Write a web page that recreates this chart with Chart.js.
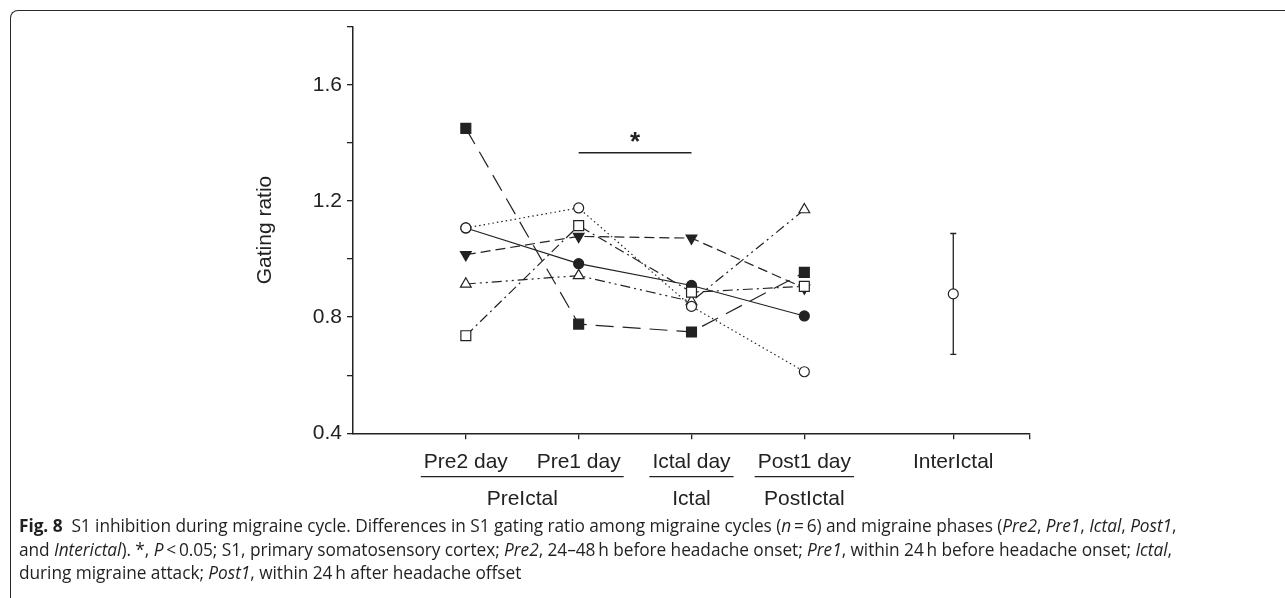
<!DOCTYPE html>
<html>
<head>
<meta charset="utf-8">
<script src="https://cdn.jsdelivr.net/npm/chart.js@4"></script>
<style>
  body { margin: 0; background: #fff; width: 1285px; height: 598px; overflow: hidden; position: relative; }
  #frame {
    position: absolute; left: 10px; top: 10px; width: 1290px; height: 600px;
    border-top: 1.5px solid #2a2a2a; border-left: 1.5px solid #2a2a2a;
    border-top-left-radius: 8px;
  }
  #chart { position: absolute; left: 0; top: 0; }
  #caption {
    position: absolute; left: 19px; top: 514px; width: 1260px;
    font-family: "Open Sans", sans-serif; font-size: 17.3px; line-height: 23.5px;
    color: #231f20; letter-spacing: -0.05px; white-space: nowrap;
  }
  #caption b { font-weight: 700; }
</style>
</head>
<body>
<div id="frame"></div>
<canvas id="chart" width="1285" height="598"></canvas>
<div id="caption">
  <div><b>Fig. 8</b>&nbsp; S1 inhibition during migraine cycle. Differences in S1 gating ratio among migraine cycles (<i>n</i>&thinsp;=&thinsp;6) and migraine phases (<i>Pre2</i>, <i>Pre1</i>, <i>Ictal</i>, <i>Post1</i>,</div>
  <div>and <i>Interictal</i>). *, <i>P</i>&thinsp;&lt;&thinsp;0.05; S1, primary somatosensory cortex; <i>Pre2</i>, 24–48&thinsp;h before headache onset; <i>Pre1</i>, within 24&thinsp;h before headache onset; <i>Ictal</i>,</div>
  <div>during migraine attack; <i>Post1</i>, within 24&thinsp;h after headache offset</div>
</div>
<script>
// Migraine-cycle days on the x axis
const days = ['Pre2 day', 'Pre1 day', 'Ictal day', 'Post1 day'];
const dayX = [1, 2, 3, 4];
const interLabel = 'InterIctal';
const interX = 5.32;
const axisEndX = 6;

// Gating ratio per cycle (n = 6)
const cycleFilledSquare = [1.45, 0.776, 0.749, 0.954];
const cycleOpenCircle = [1.107, 1.176, 0.837, 0.612];
const cycleFilledCircle = [1.107, 0.984, 0.909, 0.804];
const cycleFilledTriangle = [1.015, 1.078, 1.072, 0.90];
const cycleOpenTriangle = [0.914, 0.943, 0.854, 1.17];
const cycleOpenSquare = [0.736, 1.115, 0.886, 0.906];

// Interictal mean and error
const interMean = [0.88];
const interErr = [0.208];

// Y ticks that carry a label
const yLabels = [0.4, 0.8, 1.2, 1.6];

// Phase groups under the day labels
const groupNames = ['PreIctal', 'Ictal', 'PostIctal'];
const groupDays = [[0, 1], [2, 2], [3, 3]];

// Significance bar (Pre1 vs Ictal)
const sigFrom = 2;
const sigTo = 3;
const sigY = 1.366;
const sigText = '*';

const INK = '#222';
const FONT = '"Liberation Sans", Arial, sans-serif';

function pts(values) {
  return values.map((v, i) => ({ x: dayX[i], y: v }));
}

function series(values, style, fill, dash, extra) {
  return Object.assign({
    data: pts(values),
    borderColor: INK,
    borderWidth: 1.2,
    borderDash: dash,
    pointStyle: style,
    pointRadius: style === 'rect' ? 7 : (style === 'triangle' ? 6.2 : 5),
    pointBackgroundColor: fill,
    pointBorderColor: INK,
    pointBorderWidth: 1.2,
    tension: 0
  }, extra || {});
}

const marks = {
  id: 'marks',
  beforeDatasetsDraw(chart) {
    const { ctx, scales: { x, y } } = chart;
    ctx.save();
    ctx.strokeStyle = INK;
    ctx.lineWidth = 1.3;
    interMean.forEach((m, i) => {
      const px = x.getPixelForValue(interX);
      const top = y.getPixelForValue(m + interErr[i]);
      const bot = y.getPixelForValue(m - interErr[i]);
      ctx.beginPath();
      ctx.moveTo(px, top); ctx.lineTo(px, bot);
      ctx.moveTo(px - 3, top); ctx.lineTo(px + 3, top);
      ctx.moveTo(px - 3, bot); ctx.lineTo(px + 3, bot);
      ctx.stroke();
    });
    ctx.restore();
  },
  afterDraw(chart) {
    const { ctx, scales: { x, y } } = chart;
    ctx.save();
    ctx.strokeStyle = INK;
    ctx.fillStyle = INK;
    ctx.lineWidth = 1.3;

    // significance bar
    const sy = y.getPixelForValue(sigY);
    const x1 = x.getPixelForValue(sigFrom);
    const x2 = x.getPixelForValue(sigTo);
    ctx.beginPath();
    ctx.moveTo(x1, sy); ctx.lineTo(x2, sy);
    ctx.stroke();
    ctx.font = 'bold 26px ' + FONT;
    ctx.textAlign = 'center';
    ctx.textBaseline = 'alphabetic';
    ctx.fillText(sigText, (x1 + x2) / 2, sy - 2.5);

    // phase groups
    ctx.font = '21px ' + FONT;
    const base = y.bottom;
    groupNames.forEach((name, g) => {
      const [a, b] = groupDays[g];
      const left = x.getPixelForValue(dayX[a]) - ctx.measureText(days[a]).width / 2 - 3;
      const right = x.getPixelForValue(dayX[b]) + ctx.measureText(days[b]).width / 2 + 3;
      ctx.beginPath();
      ctx.moveTo(left, base + 43.4); ctx.lineTo(right, base + 43.4);
      ctx.stroke();
      ctx.fillText(name, (left + right) / 2, base + 72);
    });
    ctx.restore();
  }
};

const interDataset = {
  data: interMean.map(m => ({ x: interX, y: m })),
  showLine: false,
  pointStyle: 'circle',
  pointRadius: 5,
  pointBackgroundColor: '#fff',
  pointBorderColor: INK,
  pointBorderWidth: 1.2
};

// first dataset ends up on top
new Chart(document.getElementById('chart'), {
  type: 'line',
  data: {
    datasets: [
      series(cycleOpenCircle, 'circle', '#fff', [1.5, 3]),
      series(cycleOpenSquare, 'rect', '#fff', [10, 4, 2, 4]),
      series(cycleOpenTriangle, 'triangle', '#fff', [10, 4, 2, 4, 2, 4]),
      series(cycleFilledTriangle, 'triangle', INK, [10, 5], { pointRotation: 180 }),
      series(cycleFilledSquare, 'rect', INK, [18, 9]),
      series(cycleFilledCircle, 'circle', INK, []),
      interDataset
    ]
  },
  options: {
    responsive: false,
    animation: false,
    devicePixelRatio: 1,
    layout: { padding: { left: 240, top: 26.7, right: 255, bottom: 104.7 } },
    plugins: { legend: { display: false }, tooltip: { enabled: false } },
    scales: {
      x: {
        type: 'linear',
        min: 0,
        max: axisEndX,
        afterBuildTicks: axis => {
          axis.ticks = dayX.concat([interX, axisEndX]).map(v => ({ value: v }));
        },
        afterFit: axis => { axis.height = 60; },
        grid: { drawOnChartArea: false, drawTicks: true, tickLength: 6, color: INK, lineWidth: 1.3 },
        border: { display: true, color: INK, width: 1.5 },
        ticks: {
          autoSkip: false,
          maxRotation: 0,
          padding: 10,
          color: INK,
          font: { family: FONT, size: 21 },
          callback: value => {
            const i = dayX.indexOf(value);
            if (i >= 0) return days[i];
            return value === interX ? interLabel : '';
          }
        }
      },
      y: {
        min: 0.4,
        max: 1.8,
        afterFit: axis => { axis.width = 113; },
        grid: { drawOnChartArea: false, drawTicks: true, tickLength: 6, color: INK, lineWidth: 1.3 },
        border: { display: true, color: INK, width: 1.5 },
        title: {
          display: true,
          text: 'Gating ratio',
          color: INK,
          font: { family: FONT, size: 21 },
          padding: { top: 12.4, bottom: 0 }
        },
        ticks: {
          stepSize: 0.2,
          padding: 5,
          color: INK,
          font: { family: FONT, size: 21 },
          callback: value => yLabels.some(v => Math.abs(v - value) < 1e-6) ? value.toFixed(1) : ''
        }
      }
    }
  },
  plugins: [marks]
});
</script>
</body>
</html>
